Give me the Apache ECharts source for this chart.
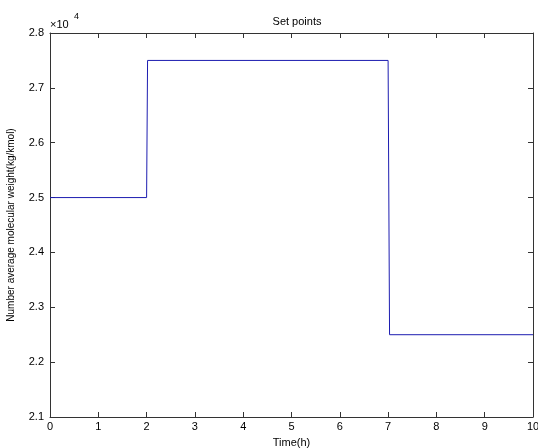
<!DOCTYPE html>
<html>
<head>
<meta charset="utf-8">
<script src="https://cdn.jsdelivr.net/npm/echarts@6/dist/echarts.min.js"></script>
<style>
html, body { margin: 0; padding: 0; background: #fff; }
#chart { width: 538px; height: 448px; }
</style>
</head>
<body>
<div id="chart"></div>
<script>
// set point trajectory (time in h, Mn in kg/kmol)
const timeH = [0, 2, 2.02, 7, 7.03, 10]
const mnSet = [25000, 25000, 27500, 27500, 22500, 22500]
const xTicks = [0, 1, 2, 3, 4, 5, 6, 7, 8, 9, 10]
const yTicks = [21000, 22000, 23000, 24000, 25000, 26000, 27000, 28000]

const font = 'Liberation Sans, Arial, sans-serif'
const axisColor = '#333'

const chart = echarts.init(document.getElementById('chart'))

const baseX = {
  type: 'value',
  min: xTicks[0],
  max: xTicks[xTicks.length - 1],
  interval: 1,
  axisLine: { show: true, onZero: false, lineStyle: { color: axisColor, width: 1 } },
  axisTick: { show: true, inside: true, length: 5, lineStyle: { color: axisColor } },
  splitLine: { show: false }
}
const baseY = {
  type: 'value',
  min: yTicks[0],
  max: yTicks[yTicks.length - 1],
  interval: 1000,
  axisLine: { show: true, onZero: false, lineStyle: { color: axisColor, width: 1 } },
  axisTick: { show: true, inside: true, length: 5, lineStyle: { color: axisColor } },
  splitLine: { show: false }
}

chart.setOption({
  animation: false,
  title: {
    text: 'Set points',
    left: 292,
    top: 11,
    textAlign: 'center',
    textStyle: { fontFamily: font, fontSize: 11, fontWeight: 'normal', color: '#000' }
  },
  grid: { left: 50, right: 5, top: 33, bottom: 31, outerBoundsMode: 'none' },
  graphic: [
    {
      type: 'text',
      left: 50,
      top: 19,
      style: { text: '×10', font: '11px ' + font, fill: '#000' }
    },
    {
      type: 'text',
      left: 74,
      top: 12,
      style: { text: '4', font: '9px ' + font, fill: '#000' }
    }
  ],
  xAxis: [
    Object.assign({}, baseX, {
      position: 'bottom',
      name: 'Time(h)',
      nameLocation: 'middle',
      nameGap: 20,
      nameTextStyle: { fontFamily: font, fontSize: 11, color: '#000' },
      axisLabel: { show: true, fontFamily: font, fontSize: 11, color: '#000', margin: 4 }
    }),
    Object.assign({}, baseX, { position: 'top', axisLabel: { show: false } })
  ],
  yAxis: [
    Object.assign({}, baseY, {
      position: 'left',
      name: 'Number average molecular weight(kg/kmol)',
      nameLocation: 'middle',
      nameGap: 34,
      nameTextStyle: { fontFamily: font, fontSize: 10, color: '#000' },
      axisLabel: {
        show: true, fontFamily: font, fontSize: 11, color: '#000', margin: 6,
        formatter: v => (v / 10000).toFixed(1)
      }
    }),
    Object.assign({}, baseY, { position: 'right', axisLabel: { show: false } })
  ],
  series: [
    {
      type: 'line',
      data: timeH.map((t, i) => [t, mnSet[i]]),
      showSymbol: false,
      lineStyle: { color: '#1c1cb0', width: 1 },
      itemStyle: { color: '#1c1cb0' }
    }
  ]
})
</script>
</body>
</html>
